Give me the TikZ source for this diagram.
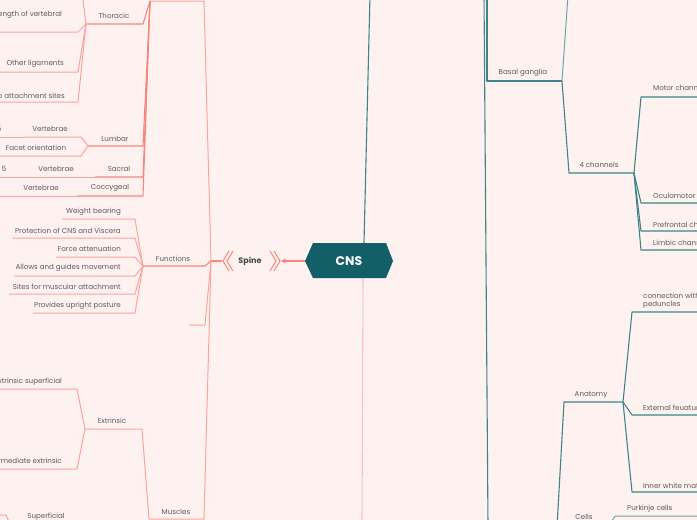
\documentclass[tikz,border=0pt]{standalone}
\usepackage{fontspec}
\setmainfont{Poppins}
\usetikzlibrary{arrows.meta}
\definecolor{bgc}{HTML}{FEF2F0}
\definecolor{sal}{HTML}{F6877E}
\definecolor{sal2}{HTML}{F9A59D}
\definecolor{salpale}{HTML}{F8C4BE}
\definecolor{tealf}{HTML}{135F67}
\definecolor{teal1}{HTML}{3F8489}
\definecolor{teal2}{HTML}{6FA5A9}
\definecolor{txt}{HTML}{5C5C5C}
\begin{document}
\begin{tikzpicture}[x=1pt,y=-1pt,
 lbl/.style={font=\fontsize{7.1}{8.2}\selectfont, text=txt, inner sep=0pt},
 sl/.style={draw=sal, line width=1.1pt, line join=round},
 sl2/.style={draw=sal2, line width=1pt, line join=round},
 tl/.style={draw=teal1, line width=1.1pt, line join=round},
 tl2/.style={draw=teal2, line width=1pt, line join=round}]
\fill[bgc] (0,0) rectangle (697,520);
\useasboundingbox (0,0) rectangle (697,520);
\clip (0,0) rectangle (697,520);

% ---------- CNS ----------
\coordinate (cnsW) at (305,261);
\coordinate (cnsN) at (364,243);
\coordinate (cnsS) at (363,278);
\coordinate (offA) at (370,-5);
\coordinate (offB) at (362,525);
\draw[tl] (cnsN) -- (offA);
\draw[salpale, line width=1.1pt] (cnsS) -- (offB);
\fill[tealf] (305,261) -- (313,243) -- (386,243) -- (393,261) -- (386,278) -- (313,278) -- cycle;
\node[font=\fontsize{12.5}{14}\selectfont\bfseries, text=white] (cns) at (349,261) {CNS};

% ---------- Spine ----------
\node[font=\fontsize{8}{9}\selectfont\bfseries, text=black!72] (spine) at (250,261) {Spine};
\draw[sal, line width=1pt] (229,251) -- (223,261) -- (229,271) (233,251) -- (227,261) -- (233,271);
\draw[sal, line width=1pt] (270,251) -- (276,261) -- (270,271) (274,251) -- (280,261) -- (274,271);
\coordinate (spineE) at (281,261);
\coordinate (spineW) at (222,261);
\coordinate (hub) at (211,261);
\draw[sl, -{Stealth[length=5pt,width=5pt]}] (cnsW) -- (spineE);
\draw[sl] (spineW) -- (hub);

% spine children
\coordinate (vc-l) at (150,1); \coordinate (vc-r) at (204,1);
\draw[sl2] (vc-l) -- (vc-r) -- (hub);
\coordinate (fn-l) at (143,266); \coordinate (fn-r) at (205,266);
\draw[sl] (fn-l) -- (fn-r) -- (hub);
\node[lbl] (fn) at (173,259) {Functions};
\coordinate (st-l) at (189,325); \coordinate (st-r) at (205,325);
\draw[sl2] (st-l) -- (st-r) -- (hub);
\coordinate (mu-l) at (149,519); \coordinate (mu-r) at (204,519);
\draw[sl2] (mu-l) -- (mu-r) -- (hub);
\node[lbl] (mu) at (176,512) {Muscles};

% vertebral column children
\coordinate (th-l) at (86,24); \coordinate (th-r) at (143,24);
\draw[sl] (th-l) -- (th-r) -- (vc-l);
\node[lbl] (th) at (114,16) {Thoracic};
\coordinate (lu-l) at (88,146); \coordinate (lu-r) at (143,146);
\draw[sl] (lu-l) -- (lu-r) -- (vc-l);
\node[lbl] (lu) at (115,139) {Lumbar};
\coordinate (sa-l) at (95,177); \coordinate (sa-r) at (143,177);
\draw[sl] (sa-l) -- (sa-r) -- (vc-l);
\node[lbl] (sa) at (119,169) {Sacral};
\coordinate (co-l) at (77,196); \coordinate (co-r) at (143,196);
\draw[sl] (co-l) -- (co-r) -- (vc-l);
\node[lbl] (co) at (110,188) {Coccygeal};

% thoracic children
\coordinate (thu-r) at (82,-8);
\draw[sl2] (thu-r) -- (th-l);
\coordinate (lv-l) at (-5,32); \coordinate (lv-r) at (78,32);
\draw[sl2] (lv-l) -- (lv-r) -- (th-l);
\node[lbl, anchor=east] (lv) at (62,15) {Length of vertebral};
\coordinate (ol-l) at (-5,72); \coordinate (ol-r) at (78,72);
\draw[sl2] (ol-l) -- (ol-r) -- (th-l);
\node[lbl, anchor=east] (ol) at (64,64) {Other ligaments};
\coordinate (rb-l) at (-5,102); \coordinate (rb-r) at (78,102);
\draw[sl2] (rb-l) -- (rb-r) -- (th-l);
\node[lbl, anchor=east] (rb) at (65,96) {Rib attachment sites};

% lumbar children
\coordinate (lv2-l) at (25,137); \coordinate (lv2-r) at (81,137);
\draw[sl2] (lv2-l) -- (lv2-r) -- (lu-l);
\node[lbl] (lv2) at (50,129) {Vertebrae};
\coordinate (l5-l) at (-20,137); \coordinate (l5-r) at (25,137);
\draw[sl2] (l5-l) -- (l5-r) -- (lv2-l);
\node[lbl] (l5) at (-1,129) {5};
\coordinate (fo-l) at (-5,156); \coordinate (fo-r) at (81,156);
\draw[sl2] (fo-l) -- (fo-r) -- (lu-l);
\node[lbl] (fo) at (36,148) {Facet orientation};

% sacral children
\coordinate (sv-l) at (20,177); \coordinate (sv-r) at (95,177);
\draw[sl2] (sv-l) -- (sv-r) -- (sa-l);
\node[lbl] (sv) at (56,169) {Vertebrae};
\coordinate (s5-l) at (-10,177); \coordinate (s5-r) at (20,177);
\draw[sl2] (s5-l) -- (s5-r) -- (sv-l);
\node[lbl] (s5) at (4,169) {5};

% coccygeal children
\coordinate (cv-l) at (-5,196); \coordinate (cv-r) at (77,196);
\draw[sl2] (cv-l) -- (cv-r) -- (co-l);
\node[lbl] (cv) at (41,188) {Vertebrae};

% functions children
\foreach \n/\xl/\y/\ty/\t in {wb/62/219/212/Weight bearing,
  pr/12/238/231/Protection of CNS and Viscera,
  fa/56/257/249/Force attenuation,
  ag/14/276/268/Allows and guides movement,
  sm/9/294/287/Sites for muscular attachment,
  up/33/313/306/Provides upright posture}{
  \coordinate (\n-l) at (\xl,\y); \coordinate (\n-r) at (135,\y);
  \draw[sl2] (\n-l) -- (\n-r) -- (fn-l);
  \node[lbl, anchor=east] (\n) at (121,\ty) {\t};
}

% muscles children
\coordinate (ex-l) at (85,429); \coordinate (ex-r) at (142,429);
\draw[sl2] (ex-l) -- (ex-r) -- (mu-l);
\node[lbl] (ex) at (112,421) {Extrinsic};
\coordinate (es-l) at (-5,389); \coordinate (es-r) at (77,389);
\draw[sl2] (es-l) -- (es-r) -- (ex-l);
\node[lbl, anchor=east] (es) at (62,382) {Extrinsic superficial};
\coordinate (ie-l) at (-5,469); \coordinate (ie-r) at (77,469);
\draw[sl2] (ie-l) -- (ie-r) -- (ex-l);
\node[lbl, anchor=east] (ie) at (62,461) {Intermediate extrinsic};
\coordinate (sf-l) at (11,526); \coordinate (sf-r) at (80,526);
\draw[sl2] (sf-l) -- (sf-r);
\node[lbl] (sf) at (46,517) {Superficial};
\coordinate (sfc-l) at (-10,515); \coordinate (sfc-r) at (6,515);
\draw[sl2] (sfc-l) -- (sfc-r) -- (sf-l);

% ---------- right (teal) ----------
\coordinate (tA-t) at (484,-5); \coordinate (tA-b) at (488,525);
\draw[tl] (tA-t) -- (tA-b);
\coordinate (bgp) at (487,-5);
\coordinate (bg-l) at (487,81); \coordinate (bg-r) at (562,81);
\draw[tl] (bgp) -- (bg-l) -- (bg-r);
\node[lbl] (bg) at (523,73) {Basal ganglia};
\coordinate (bgu) at (568,-5);
\draw[tl2] (bg-r) -- (bgu);
\coordinate (ch-l) at (569,173); \coordinate (ch-r) at (634,173);
\draw[tl] (bg-r) -- (ch-l) -- (ch-r);
\node[lbl] (ch) at (599,165) {4 channels};
\foreach \n/\y/\ty/\t in {mc/97/88/Motor channel, oc/203/196/Oculomotor channel,
  pc/231/225/Prefrontal channel, lc/250/243/Limbic channel}{
  \coordinate (\n-l) at (641,\y); \coordinate (\n-r) at (705,\y);
  \draw[tl] (ch-r) -- (\n-l) -- (\n-r);
  \node[lbl, anchor=west] (\n) at (653,\ty) {\t};
}

\coordinate (anp) at (556,545);
\coordinate (an-l) at (564,402); \coordinate (an-r) at (623,402);
\draw[tl] (anp) -- (an-l) -- (an-r);
\node[lbl] (an) at (591,395) {Anatomy};
\coordinate (cw-l) at (632,312); \coordinate (cw-r) at (705,312);
\draw[tl] (an-r) -- (cw-l) -- (cw-r);
\node[lbl, anchor=west, align=left] (cw) at (643,300.5) {connection with\\peduncles};
\coordinate (ef-l) at (632,415); \coordinate (ef-r) at (705,415);
\draw[tl] (an-r) -- (ef-l) -- (ef-r);
\node[lbl, anchor=west] (ef) at (643,408) {External feuatures};
\coordinate (iw-l) at (632,492); \coordinate (iw-r) at (705,492);
\draw[tl] (an-r) -- (iw-l) -- (iw-r);
\node[lbl, anchor=west] (iw) at (643,486) {Inner white matter};
\coordinate (ce-l) at (559,526); \coordinate (ce-r) at (609,526);
\draw[tl] (anp) -- (ce-l) -- (ce-r);
\node[lbl] (ce) at (584,517) {Cells};
\coordinate (pk-l) at (615,516); \coordinate (pk-r) at (705,516);
\draw[tl2] (ce-r) -- (pk-l) -- (pk-r);
\node[lbl, anchor=west] (pk) at (627,509) {Purkinje cells};
\end{tikzpicture}
\end{document}
